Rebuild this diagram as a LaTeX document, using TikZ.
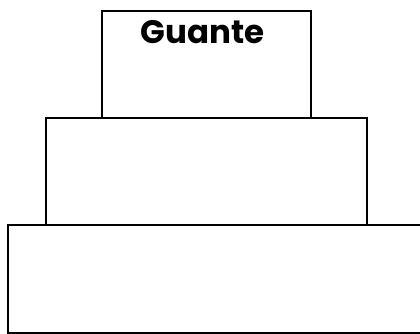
\documentclass[tikz,border=0pt]{standalone}
\usepackage{fontspec}
\setmainfont{Poppins}
\usepackage{tikz}
\usetikzlibrary{positioning,calc}
\tikzset{
  tierbox/.style={rectangle,draw=black,line width=2pt,fill=white,
    anchor=north west,inner sep=0pt},
  tierlabel/.style={font=\fontsize{32.5}{33}\selectfont\bfseries,text=black,inner sep=0pt},
}
\begin{document}
\begin{tikzpicture}[x=1pt,y=-1pt]
  \useasboundingbox (0,0) rectangle (420,333);
  \node[tierbox,minimum width=418pt,minimum height=107.5pt] (base) at (7,224) {};
  \node[tierbox,minimum width=321pt,minimum height=106.5pt] (middle) at (45,117) {};
  \node[tierbox,minimum width=209pt,minimum height=106.5pt] (glove) at (101,10) {};
  \node[tierlabel,anchor=base] (glovetext) at ($(glove.north)+(-4,33.5)$) {Guante};
\end{tikzpicture}
\end{document}
